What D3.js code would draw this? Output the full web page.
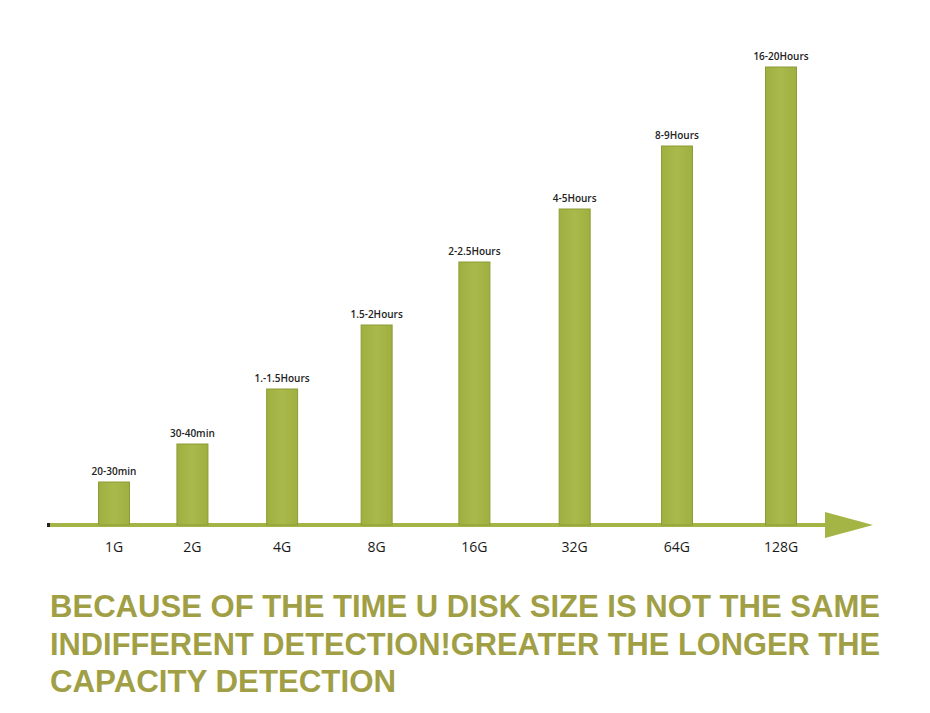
<!DOCTYPE html>
<html lang="en">
<head>
	<meta charset="UTF-8">
	<title>U disk detection time</title>
	<script src="https://d3js.org/d3.v7.min.js"></script>
	<style>
		html, body { margin: 0; padding: 0; background: #fff; }
	</style>
</head>
<body>
	<div class="box"></div>

	<script type="text/javascript">
		// data (bar heights in px-like units, no y axis shown)
		let categories = ['1G', '2G', '4G', '8G', '16G', '32G', '64G', '128G']
		let barValues = [43, 81, 136, 200, 263, 316, 379, 458]
		let timeLabels = ['20-30min', '30-40min', '1.-1.5Hours', '1.5-2Hours', '2-2.5Hours', '4-5Hours', '8-9Hours', '16-20Hours']
		let captionLines = [
			'BECAUSE OF THE TIME U DISK SIZE IS NOT THE SAME',
			'INDIFFERENT DETECTION!GREATER THE LONGER THE',
			'CAPACITY DETECTION'
		]

		let width = 930
		let height = 713
		let baseY = 525
		let barWidth = 31
		let green = '#a4b545'
		let greenDark = '#8d9c36'
		let captionColor = '#a19f45'

		let svg = d3.select('.box').append('svg').attr('width', width).attr('height', height)

		let defs = svg.append('defs')
		let grad = defs.append('linearGradient').attr('id', 'barGrad')
			.attr('x1', '0').attr('x2', '1').attr('y1', '0').attr('y2', '0')
		grad.append('stop').attr('offset', '0%').attr('stop-color', '#9fb040')
		grad.append('stop').attr('offset', '50%').attr('stop-color', '#a9b94b')
		grad.append('stop').attr('offset', '100%').attr('stop-color', '#9fb040')

		// bars spread a little wider toward the right in the original
		let xi = d3.scalePow().exponent(1.1).domain([0, categories.length - 1]).range([114, 781])
		let x = c => xi(categories.indexOf(c))
		let y = d3.scaleLinear().domain([0, 458]).range([baseY, 67])

		// axis line with arrow head
		svg.append('rect')
			.attr('x', 48).attr('y', baseY - 2)
			.attr('width', 782).attr('height', 4)
			.attr('fill', green)
		svg.append('path')
			.attr('d', 'M825,512 L873,525 L825,538 Z')
			.attr('fill', green)
		svg.append('rect')
			.attr('x', 47).attr('y', baseY - 2)
			.attr('width', 3).attr('height', 4)
			.attr('fill', '#222')

		let bars = svg.selectAll('.bar').data(barValues).enter()
		bars.append('rect')
			.attr('class', 'bar')
			.attr('x', (d, i) => x(categories[i]) - barWidth / 2)
			.attr('y', d => y(d))
			.attr('width', barWidth)
			.attr('height', d => baseY - y(d))
			.attr('fill', 'url(#barGrad)')
			.attr('stroke', greenDark)
			.attr('stroke-width', 1)

		svg.selectAll('.tlabel').data(timeLabels).enter()
			.append('text')
			.attr('class', 'tlabel')
			.attr('x', (d, i) => x(categories[i]))
			.attr('y', (d, i) => y(barValues[i]) - 7)
			.attr('text-anchor', 'middle')
			.attr('font-family', 'Open Sans, sans-serif')
			.attr('font-size', '10px')
			.attr('font-weight', 600)
			.attr('fill', '#222')
			.text(d => d)

		svg.selectAll('.clabel').data(categories).enter()
			.append('text')
			.attr('class', 'clabel')
			.attr('x', d => x(d))
			.attr('y', 552)
			.attr('text-anchor', 'middle')
			.attr('font-family', 'Open Sans, sans-serif')
			.attr('font-size', '14px')
			.attr('fill', '#1a1a1a')
			.text(d => d)

		let captionWidths = [830, 830, 346]
		svg.selectAll('.caption').data(captionLines).enter()
			.append('text')
			.attr('class', 'caption')
			.attr('x', 50)
			.attr('y', (d, i) => 617 + i * 37.5)
			.attr('font-family', 'Liberation Sans, Arial, sans-serif')
			.attr('font-size', '32px')
			.attr('font-weight', 700)
			.attr('fill', captionColor)
			.attr('textLength', (d, i) => captionWidths[i])
			.attr('lengthAdjust', 'spacingAndGlyphs')
			.text(d => d)
	</script>
</body>
</html>
